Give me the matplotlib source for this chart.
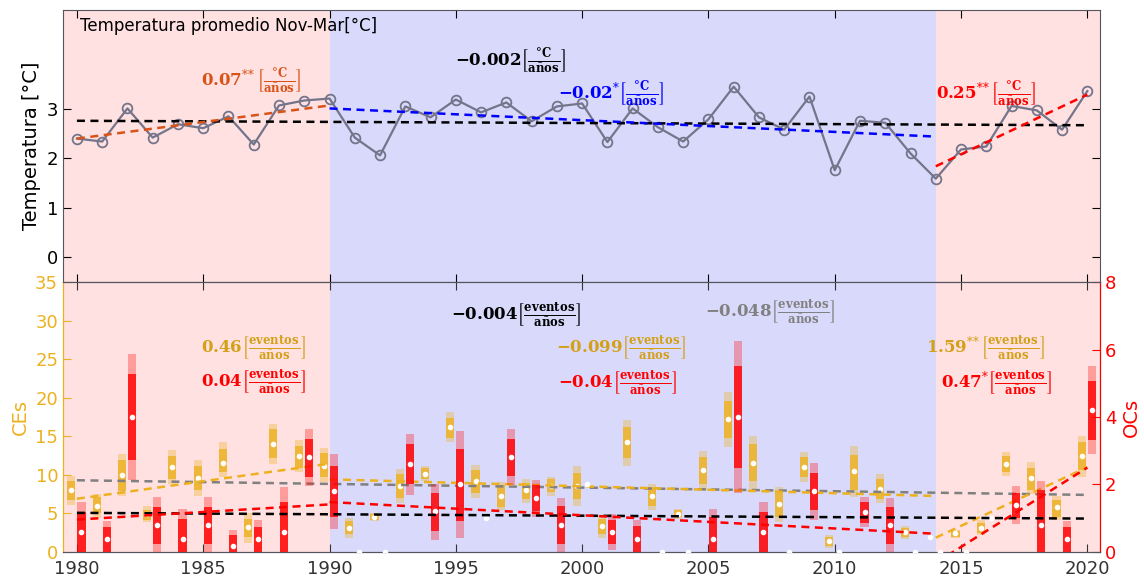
import numpy as np
import matplotlib.pyplot as plt

plt.rcParams['mathtext.fontset'] = 'dejavuserif'
plt.rcParams['font.family'] = ['DejaVu Sans']

years = np.arange(1980, 2021)

# temperatura promedio Nov-Mar
temp = [2.40, 2.34, 3.01, 2.42, 2.69, 2.61, 2.85, 2.28, 3.07, 3.17, 3.21,
        2.42, 2.06, 3.05, 2.83, 3.19, 2.93, 3.13, 2.75, 3.05, 3.11, 2.33,
        3.01, 2.63, 2.34, 2.79, 3.45, 2.83, 2.58, 3.25, 1.76, 2.76, 2.72,
        2.10, 1.59, 2.18, 2.24, 3.06, 2.97, 2.58, 3.36]

# CEs: outer range, inner range, median
ce_lo = [6.13, 4.4, 7.21, 3.9, 8.8, 7.3, 9.7, 1.2, 11.4, 10.4, 9.1,
         1.86, 4.0, 6.4, 9.2, 14.3, 7.0, 5.4, 6.35, 7.3, 6.0,
         1.86, 11.2, 5.5, 4.3, 8.0, 13.6, 8.1, 3.9, 9.1, 0.56,
         7.1, 6.3, 1.73, 1.94, 1.86, 2.16, 9.85, 7.5, 4.1, 9.7]
ce_q1 = [6.78, 5.0, 7.9, 4.2, 9.4, 8.0, 10.4, 1.9, 12.2, 10.9, 9.7,
         2.3, 4.2, 7.0, 9.5, 14.8, 7.7, 5.83, 6.9, 7.8, 6.9,
         2.3, 12.2, 5.9, 4.5, 8.77, 14.8, 9.2, 4.6, 9.7, 0.82,
         8.1, 6.9, 1.94, 1.94, 2.0, 2.5, 10.4, 8.1, 4.6, 10.6]
ce_med = [8.0, 5.96, 10.0, 4.9, 11.0, 9.6, 11.6, 3.3, 14.0, 12.4, 11.2,
          3.15, 4.5, 8.6, 10.15, 16.2, 9.16, 7.2, 8.0, 8.6, 8.6,
          3.33, 14.2, 7.2, 4.97, 10.6, 17.2, 11.6, 6.2, 11.0, 1.38,
          10.45, 8.2, 2.55, 1.94, 2.4, 3.15, 11.45, 9.6, 5.83, 12.4]
ce_q3 = [9.2, 7.1, 11.88, 5.5, 12.5, 11.1, 13.4, 4.3, 15.9, 13.8, 12.8,
         4.0, 4.9, 10.1, 10.9, 17.4, 10.6, 8.64, 9.0, 9.4, 10.2,
         4.32, 16.2, 8.4, 5.4, 12.3, 19.6, 13.95, 7.7, 12.3, 1.94,
         12.6, 9.5, 3.11, 1.94, 2.7, 3.76, 12.4, 10.9, 6.8, 14.2]
ce_hi = [9.85, 7.56, 12.74, 5.9, 13.2, 11.9, 14.3, 5.0, 16.6, 14.5, 13.5,
         4.4, 5.05, 10.7, 11.2, 18.1, 11.3, 9.07, 9.5, 9.7, 11.1,
         4.75, 17.1, 8.86, 5.6, 13.1, 20.7, 15.0, 8.4, 13.0, 2.16,
         13.7, 10.1, 3.37, 1.94, 2.9, 4.1, 13.0, 11.66, 7.3, 15.1]

# OCs
oc_lo = [0, 0, 2.12, 0, 0, 0, 0, 0, 0, 1.95, 0.67,
         0, 0, 1.70, 0.35, 0.40, 1.0, 1.98, 1.04, 0, 2.0,
         0.05, 0, 0, 0, 0, 1.76, 0, 0, 0.96, 0,
         0.74, 0, 0, 0, 0, 1.0, 0.84, 0, 0, 2.89]
oc_q1 = [0, 0, 2.74, 0.23, 0, 0.23, 0, 0, 0, 2.22, 1.04,
         0, 0, 2.0, 0.62, 0.92, 1.0, 2.24, 1.2, 0.25, 2.0,
         0.23, 0, 0, 0, 0, 2.5, 0, 0, 1.23, 0,
         0.87, 0.23, 0, 0, 0, 1.0, 1.02, 0, 0, 3.33]
oc_med = [0.59, 0.39, 4.0, 0.8, 0.39, 0.8, 0.19, 0.39, 0.59, 2.8, 1.8,
          0, 0, 2.6, 1.2, 2.0, 1.0, 2.8, 1.6, 0.79, 2.0,
          0.59, 0.39, 0, 0, 0.39, 4.0, 0.59, 0, 1.8, 0,
          1.19, 0.79, 0, 0, 0, 1.0, 1.4, 0.79, 0.39, 4.2]
oc_q3 = [1.19, 0.74, 5.26, 1.33, 0.97, 1.33, 0.49, 0.74, 1.48, 3.36, 2.54,
         0, 0, 3.19, 1.75, 3.06, 1.0, 3.36, 1.98, 1.35, 2.0,
         0.96, 0.76, 0, 0, 1.04, 5.5, 1.19, 0, 2.35, 0,
         1.48, 1.33, 0, 0, 0, 1.0, 1.76, 1.83, 0.74, 5.07]
oc_hi = [1.48, 0.92, 5.88, 1.63, 1.28, 1.63, 0.64, 0.94, 1.93, 3.63, 2.89,
         0, 0, 3.49, 2.02, 3.58, 1.0, 3.63, 2.14, 1.61, 2.0,
         1.14, 0.94, 0, 0, 1.28, 6.24, 1.48, 0, 2.64, 0,
         1.63, 1.61, 0, 0, 0, 1.0, 1.95, 2.09, 0.92, 5.5]

# periods
breaks = [1990, 2014]

# trend lines (start year, end year, value at start, value at end)
t_tr_x0 = [1980, 1980, 1990, 2014]
t_tr_x1 = [2020, 1990, 2014, 2020]
t_tr_y0 = [2.76, 2.40, 3.01, 1.84]
t_tr_y1 = [2.67, 3.07, 2.44, 3.29]
t_tr_c = ['black', '#D95319', 'blue', 'red']

ce_tr_x0 = [1980, 1980, 1990, 2014]
ce_tr_x1 = [2020, 1990, 2014, 2020]
ce_tr_y0 = [9.3, 6.9, 9.42, 1.86]
ce_tr_y1 = [7.4, 11.45, 7.26, 11.0]
ce_tr_c = ['gray', '#EDB120', '#EDB120', '#EDB120']

oc_tr_x0 = [1980, 1980, 1990, 2014]
oc_tr_x1 = [2020, 1990, 2014, 2020]
oc_tr_y0 = [1.16, 0.96, 1.48, -0.32]
oc_tr_y1 = [0.99, 1.41, 0.54, 2.5]
oc_tr_c = ['black', 'red', 'red', 'red']

# slope labels
t_slopes = ['0.07', '-0.002', '-0.02', '0.25']
t_stars = ['**', '', '*', '**']
ce_slopes = ['-0.048', '0.46', '-0.099', '1.59']
ce_stars = ['', '', '', '**']
oc_slopes = ['-0.004', '0.04', '-0.04', '0.47']
oc_stars = ['', '', '', '*']

YEL = '#EDB120'
YEL_TXT = '#D4A017'
PINK = '#ffe1e1'
BLUE = '#d9d9fb'


def lab(num, stars, unit):
    s = r'$\mathbf{' + num + '}'
    if stars:
        s += '^{' + r'\!'.join(stars) + '}'
    s += r'\left[\frac{' + unit + r'}{\mathbf{años}}\right]$'
    return s


T_UNIT = r'\mathbf{°C}'
E_UNIT = r'\mathbf{eventos}'

fig = plt.figure(figsize=(11.44, 5.78), dpi=100)
ax1 = fig.add_axes([0.0551, 0.5121, 0.9064, 0.4706])
ax2 = fig.add_axes([0.0551, 0.0450, 0.9064, 0.4671])
ax3 = ax2.twinx()

for ax in (ax1, ax2):
    ax.axvspan(1970, breaks[0], color=PINK, lw=0, zorder=0)
    ax.axvspan(breaks[0], breaks[1], color=BLUE, lw=0, zorder=0)
    ax.axvspan(breaks[1], 2030, color=PINK, lw=0, zorder=0)
    ax.set_xlim(1979.45, 2020.5)
    ax.set_xticks(range(1980, 2021, 5))

# top panel
ax1.plot(years, temp, '-o', color='#74748a', lw=1.6, ms=7, mfc='none', mew=1.3, zorder=3)
for i in range(len(t_tr_x0)):
    ax1.plot([t_tr_x0[i], t_tr_x1[i]], [t_tr_y0[i], t_tr_y1[i]], color=t_tr_c[i],
             lw=1.8, dashes=(3.2, 2.2), zorder=4)
ax1.set_ylim(-0.5, 5)
ax1.set_yticks([0, 1, 2, 3])
ax1.set_xticklabels([])
ax1.set_ylabel('Temperatura [°C]', fontsize=14)
ax1.tick_params(direction='in', top=True, right=True, length=6, labelsize=13)
ax1.text(0.016, 0.94, 'Temperatura promedio Nov-Mar[°C]', transform=ax1.transAxes,
         fontsize=12, va='center', ha='left')
t_pos = [(1986.9, 3.56), (1997.15, 3.97), (2001.15, 3.30), (2016.0, 3.30)]
t_txtc = ['#D95319', 'black', 'blue', 'red']
for i in range(4):
    ax1.text(t_pos[i][0], t_pos[i][1], lab(t_slopes[i], t_stars[i], T_UNIT),
             color=t_txtc[i], fontsize=12, ha='center', va='center')

# bottom panel: CEs
xc = years - 0.22
ax2.bar(xc, np.array(ce_hi) - np.array(ce_lo), bottom=ce_lo, width=0.32, color=YEL, alpha=0.35, lw=0, zorder=2)
ax2.bar(xc, np.array(ce_q3) - np.array(ce_q1), bottom=ce_q1, width=0.32, color=YEL, alpha=0.8, lw=0, zorder=2)
ax2.plot(xc, ce_med, 'o', color='white', ms=3, zorder=3)
for i in range(len(ce_tr_x0)):
    ax2.plot([ce_tr_x0[i], ce_tr_x1[i]], [ce_tr_y0[i], ce_tr_y1[i]], color=ce_tr_c[i],
             lw=1.8, dashes=(3.2, 2.2), zorder=4)
ax2.set_ylim(0, 35)
ax2.set_yticks(range(0, 36, 5))
ax2.set_ylabel('CEs', color=YEL, fontsize=14)
ax2.tick_params(direction='in', top=True, length=6, labelsize=13)
ax2.tick_params(axis='y', colors=YEL)
ax2.tick_params(axis='x', colors='#333333', pad=6)
ce_pos = [(2007.45, 31.1), (1987.0, 26.4), (2001.55, 26.4), (2015.96, 26.4)]
ce_txtc = ['gray', YEL_TXT, YEL_TXT, YEL_TXT]
for i in range(4):
    ax2.text(ce_pos[i][0], ce_pos[i][1], lab(ce_slopes[i], ce_stars[i], E_UNIT),
             color=ce_txtc[i], fontsize=12, ha='center', va='center', zorder=5)

# bottom panel: OCs
xo = years + 0.18
ax3.bar(xo, np.array(oc_hi) - np.array(oc_lo), bottom=oc_lo, width=0.32, color='red', alpha=0.3, lw=0, zorder=2)
ax3.bar(xo, np.array(oc_q3) - np.array(oc_q1), bottom=oc_q1, width=0.32, color='red', alpha=0.8, lw=0, zorder=2)
ax3.plot(xo, oc_med, 'o', color='white', ms=3, zorder=3)
for i in range(len(oc_tr_x0)):
    ax3.plot([oc_tr_x0[i], oc_tr_x1[i]], [oc_tr_y0[i], oc_tr_y1[i]], color=oc_tr_c[i],
             lw=1.8, dashes=(3.2, 2.2), zorder=4)
ax3.set_ylim(0, 8)
ax3.set_yticks(range(0, 9, 2))
ax3.set_ylabel('OCs', color='red', fontsize=14)
ax3.tick_params(axis='y', direction='in', length=6, labelsize=13, colors='red')
oc_pos = [(1997.4, 7.02), (1987.0, 5.02), (2001.4, 5.0), (2016.4, 5.0)]
for i in range(4):
    ax3.text(oc_pos[i][0], oc_pos[i][1], lab(oc_slopes[i], oc_stars[i], E_UNIT),
             color='black' if i == 0 else 'red', fontsize=12, ha='center', va='center', zorder=5)

for sp in ax1.spines.values():
    sp.set_color('#555560')
for sp in ('top', 'bottom'):
    ax2.spines[sp].set_color('#555560')
    ax3.spines[sp].set_color('#555560')
ax3.spines['left'].set_color(YEL)
ax2.spines['left'].set_color(YEL)
ax3.spines['right'].set_color('red')

fig.savefig('out.png', dpi=100)
